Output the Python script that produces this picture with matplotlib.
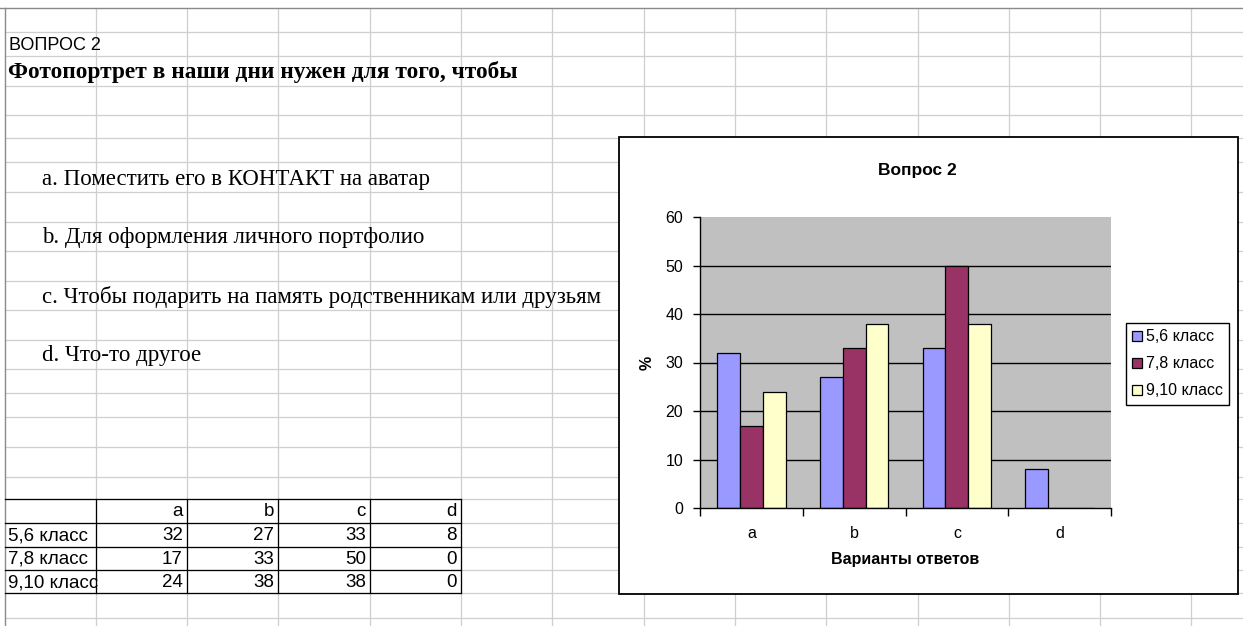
import matplotlib.pyplot as plt
from matplotlib.patches import Rectangle
import numpy as np

# data
categories = ['a', 'b', 'c', 'd']
series_names = ['5,6 класс', '7,8 класс', '9,10 класс']
grade_56 = [32, 27, 33, 8]
grade_78 = [17, 33, 50, 0]
grade_910 = [24, 38, 38, 0]
series = [grade_56, grade_78, grade_910]
colors = ['#9999ff', '#993366', '#ffffcc']

question = 'ВОПРОС 2'
heading = 'Фотопортрет в наши дни нужен для того, чтобы'
options = ['a. Поместить его в КОНТАКТ на аватар',
           'b. Для оформления личного портфолио',
           'c. Чтобы подарить на память родственникам или друзьям',
           'd. Что-то другое']

# sheet layout (pixels)
W, H = 1243, 626
col_x = [5, 96, 187, 278, 370, 461, 552, 644, 735, 826, 918, 1009, 1100, 1191]
row_y = [8, 32, 56, 86, 115, 138, 162, 192, 222, 251, 281, 310, 340, 369, 393,
         417, 447, 477, 499, 523, 547, 570, 593, 618]

SANS = ['Liberation Sans', 'DejaVu Sans']
SERIF = ['Liberation Serif', 'DejaVu Serif']

fig = plt.figure(figsize=(W / 100, H / 100), dpi=100)
bg = fig.add_axes([0, 0, 1, 1])
bg.set_xlim(0, W)
bg.set_ylim(H, 0)
bg.axis('off')

# grid of the sheet
for x in col_x[1:]:
    bg.plot([x, x], [row_y[0], H], color='#cfcfcf', lw=0.9, zorder=1)
for y in row_y[1:]:
    bg.plot([col_x[0], W], [y, y], color='#cfcfcf', lw=0.9, zorder=1)
bg.plot([0, W], [row_y[0], row_y[0]], color='#8a8a8a', lw=1.0, zorder=2)
bg.plot([col_x[0], col_x[0]], [row_y[0], H], color='#8a8a8a', lw=1.0, zorder=2)

# texts
bg.text(9, 45, question, family=SANS, fontsize=13, va='center', zorder=3)
bg.text(8, 72, heading, family=SERIF, fontsize=16.8, fontweight='bold',
        va='center', zorder=3)
for txt, yc in zip(options, [179, 238, 297, 355]):
    bg.text(42, yc, txt, family=SERIF, fontsize=16.5, va='center', zorder=3)

# table
t_rows = row_y[18:23]
t_cols = col_x[:6]
for y in t_rows:
    bg.plot([t_cols[0], t_cols[-1]], [y, y], color='black', lw=0.9, zorder=4)
for x in t_cols[1:]:
    bg.plot([x, x], [t_rows[0], t_rows[-1]], color='black', lw=0.9, zorder=4)
for j, cat in enumerate(categories):
    bg.text(t_cols[j + 2] - 4, (t_rows[0] + t_rows[1]) / 2 + 1, cat,
            family=SANS, fontsize=13.5, ha='right', va='center', zorder=5)
for i, (name, vals) in enumerate(zip(series_names, series)):
    yc = (t_rows[i + 1] + t_rows[i + 2]) / 2 + 1
    lab = bg.text(8, yc, name, family=SANS, fontsize=13.5, va='center', zorder=5)
    lab.set_clip_path(Rectangle((t_cols[0], t_rows[0]), t_cols[1] - t_cols[0] - 1,
                                t_rows[-1] - t_rows[0], transform=bg.transData))
    for j, v in enumerate(vals):
        bg.text(t_cols[j + 2] - 4, yc, str(v), family=SANS, fontsize=13.5,
                ha='right', va='center', zorder=5)

# chart frame
bg.add_patch(Rectangle((619, 137), 1238 - 619, 594 - 137, facecolor='white',
                       edgecolor='black', lw=1.3, zorder=10))

# chart
px0, px1, py0, py1 = 700, 1111, 217, 508
ax = fig.add_axes([px0 / W, 1 - py1 / H, (px1 - px0) / W, (py1 - py0) / H])
ax.set_facecolor('#c0c0c0')
x = np.arange(len(categories)) + 0.5
bw = 1 / 4.5
for k, (name, vals, c) in enumerate(zip(series_names, series, colors)):
    ax.bar(x + (k - 1) * bw, vals, bw, color=c, edgecolor='black', lw=0.9,
           label=name, zorder=3)
ax.set_xlim(0, len(categories))
ax.set_ylim(0, 60)
ax.set_yticks(range(0, 61, 10))
ax.set_xticks(range(len(categories) + 1))
ax.set_xticklabels([])
ax.set_xticks(x, minor=True)
ax.set_xticklabels(categories, minor=True, family=SANS, fontsize=11.5)
ax.tick_params(axis='x', which='major', direction='out', length=6, width=1)
ax.tick_params(axis='x', which='minor', length=0, pad=13)
ax.tick_params(axis='y', direction='out', length=5, width=1, pad=7)
for t in ax.get_yticklabels():
    t.set_family(SANS)
    t.set_fontsize(11.5)
for yv in range(10, 60, 10):
    ax.axhline(yv, color='black', lw=1.0, zorder=1)
for s in ['top', 'right']:
    ax.spines[s].set_visible(False)
for s in ['left', 'bottom']:
    ax.spines[s].set_linewidth(1.0)
    ax.spines[s].set_zorder(4)

ax.text((917 - px0) / (px1 - px0), 1 + (py0 - 170) / (py1 - py0), 'Вопрос 2',
        transform=ax.transAxes, ha='center', va='center', family=SANS,
        fontsize=12.5, fontweight='bold')
ax.set_xlabel('Варианты ответов', family=SANS, fontsize=11.5, fontweight='bold',
              labelpad=8)
ax.set_ylabel('%', family=SANS, fontsize=11.5, fontweight='bold', labelpad=8)

leg = ax.legend(loc='upper left', bbox_to_anchor=(1126 / W, 1 - 323 / H),
                bbox_transform=fig.transFigure, prop={'family': SANS, 'size': 11.5},
                fancybox=False, edgecolor='black', framealpha=1,
                handlelength=0.6, handleheight=0.6, handletextpad=0.25,
                borderpad=0.4, labelspacing=0.75, borderaxespad=0)
leg.get_frame().set_linewidth(1.0)

fig.savefig('out.png', dpi=100)
